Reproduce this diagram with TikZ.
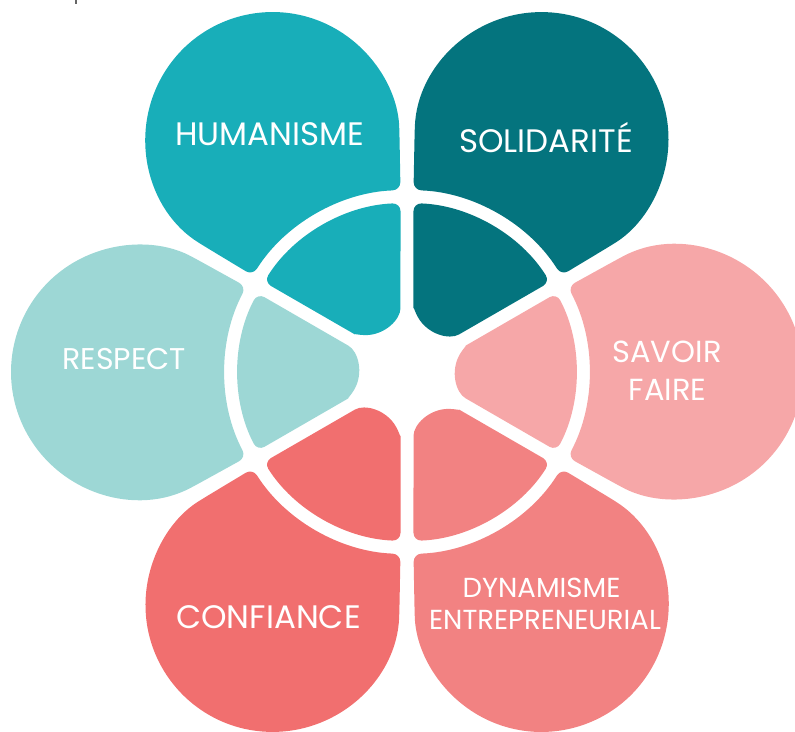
\documentclass[tikz,border=0pt]{standalone}
\usepackage{xcolor}
\usepackage{fontspec}
\setmainfont{Poppins}
\usepackage{tikz}
\usetikzlibrary{positioning}

\definecolor{cSavoir}{HTML}{F6A7A8}
\definecolor{cSolidarite}{HTML}{04747E}
\definecolor{cHumanisme}{HTML}{18AEB9}
\definecolor{cRespect}{HTML}{9DD7D5}
\definecolor{cConfiance}{HTML}{F16F6F}
\definecolor{cDynamisme}{HTML}{F28282}

\begin{document}
\begin{tikzpicture}[x=1pt, y=1pt,
    corner/.style={rounded corners=8pt},
    lbl/.style={text=white, inner sep=0pt, anchor=base},
    big/.style={font=\fontsize{32.5}{32.5}\selectfont},
    mid/.style={font=\fontsize{30.5}{30.5}\selectfont},
    small/.style={font=\fontsize{27.5}{27.5}\selectfont}]
\useasboundingbox (-407,-359) rectangle (388,372);
\fill[black!60] (-332,368) rectangle (-330,372);
% petals: outer drop, then inner piece inside the ring
\begin{scope}[rotate=0]
  \fill[cSavoir, corner] (-27.95:182) arc[start angle=-27.95, end angle=27.95, radius=182] -- (28.17:237.1) arc[start angle=118.17, end angle=-118.17, radius=127] -- cycle;
  \fill[cSavoir, corner] (65.5,-30.3) arc[start angle=240, end angle=120, radius=35] -- (27.8:169) arc[start angle=27.8, end angle=-27.8, radius=169] -- cycle;
\end{scope}
\begin{scope}[rotate=60]
  \fill[cSolidarite, corner] (-27.95:182) arc[start angle=-27.95, end angle=27.95, radius=182] -- (28.17:237.1) arc[start angle=118.17, end angle=-118.17, radius=127] -- cycle;
  \fill[cSolidarite, corner] (65.5,-30.3) arc[start angle=240, end angle=120, radius=35] -- (27.8:169) arc[start angle=27.8, end angle=-27.8, radius=169] -- cycle;
\end{scope}
\begin{scope}[rotate=120]
  \fill[cHumanisme, corner] (-27.95:182) arc[start angle=-27.95, end angle=27.95, radius=182] -- (28.17:237.1) arc[start angle=118.17, end angle=-118.17, radius=127] -- cycle;
  \fill[cHumanisme, corner] (65.5,-30.3) arc[start angle=240, end angle=120, radius=35] -- (27.8:169) arc[start angle=27.8, end angle=-27.8, radius=169] -- cycle;
\end{scope}
\begin{scope}[rotate=180]
  \fill[cRespect, corner] (-27.95:182) arc[start angle=-27.95, end angle=27.95, radius=182] -- (28.17:237.1) arc[start angle=118.17, end angle=-118.17, radius=127] -- cycle;
  \fill[cRespect, corner] (65.5,-30.3) arc[start angle=240, end angle=120, radius=35] -- (27.8:169) arc[start angle=27.8, end angle=-27.8, radius=169] -- cycle;
\end{scope}
\begin{scope}[rotate=240]
  \fill[cConfiance, corner] (-27.95:182) arc[start angle=-27.95, end angle=27.95, radius=182] -- (28.17:237.1) arc[start angle=118.17, end angle=-118.17, radius=127] -- cycle;
  \fill[cConfiance, corner] (65.5,-30.3) arc[start angle=240, end angle=120, radius=35] -- (27.8:169) arc[start angle=27.8, end angle=-27.8, radius=169] -- cycle;
\end{scope}
\begin{scope}[rotate=300]
  \fill[cDynamisme, corner] (-27.95:182) arc[start angle=-27.95, end angle=27.95, radius=182] -- (28.17:237.1) arc[start angle=118.17, end angle=-118.17, radius=127] -- cycle;
  \fill[cDynamisme, corner] (65.5,-30.3) arc[start angle=240, end angle=120, radius=35] -- (27.8:169) arc[start angle=27.8, end angle=-27.8, radius=169] -- cycle;
\end{scope}
% labels
\node[lbl, big] (humanisme) at (-137.5,226) {HUMANISME};
\node[lbl, big] (solidarite) at (139,219) {SOLIDARITÉ};
\node[lbl, font=\fontsize{30}{30}\selectfont] (respect) at (-282.8,2.7) {RESPECT};
\node[lbl, mid] (savoir) at (260,9.3) {SAVOIR};
\node[lbl, mid] (faire) at (260.5,-28) {FAIRE};
\node[lbl, big] (confiance) at (-138.5,-256) {CONFIANCE};
\node[lbl, small] (dynamisme) at (134.5,-225) {DYNAMISME};
\node[lbl, small] (entrepreneurial) at (138,-257) {ENTREPRENEURIAL};
\end{tikzpicture}
\end{document}
